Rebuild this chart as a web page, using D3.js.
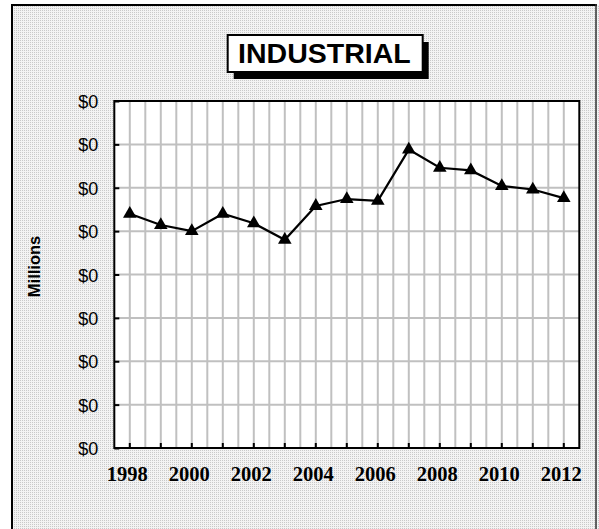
<!DOCTYPE html>
<html>
<head>
<meta charset="utf-8">
<script src="https://cdn.jsdelivr.net/npm/d3@7"></script>
<style>
  html, body { margin: 0; padding: 0; background: #fff; }
  svg { display: block; }
</style>
</head>
<body>
<script>
// ---- data ----
const years = [1998, 1999, 2000, 2001, 2002, 2003, 2004, 2005, 2006, 2007, 2008, 2009, 2010, 2011, 2012];
const values = [0.270, 0.257, 0.250, 0.270, 0.259, 0.240, 0.279, 0.287, 0.285, 0.344, 0.323, 0.320, 0.302, 0.298, 0.288];
const yTicks = [0, 0.05, 0.10, 0.15, 0.20, 0.25, 0.30, 0.35, 0.40];
const xLabelYears = [1998, 2000, 2002, 2004, 2006, 2008, 2010, 2012];
const titleText = "INDUSTRIAL";
const yAxisTitle = "Millions";

const W = 599, H = 529;
const plot = { left: 114.3, right: 579.3, top: 101, bottom: 448 };
const sans = "'Liberation Sans', Arial, sans-serif";
const serif = "'Liberation Serif', 'Times New Roman', serif";

const svg = d3.select("body").append("svg")
  .attr("width", W).attr("height", H);

const defs = svg.append("defs");
const pat = defs.append("pattern").attr("id", "dots")
  .attr("width", 2).attr("height", 2).attr("patternUnits", "userSpaceOnUse");
pat.append("rect").attr("width", 2).attr("height", 2).attr("fill", "#f3f3f3");
pat.append("rect").attr("width", 1).attr("height", 1).attr("fill", "#c9c9c9");

svg.append("rect").attr("width", W).attr("height", H).attr("fill", "#fff");

// outer frame
svg.append("rect").attr("x", 12).attr("y", 5).attr("width", 587).attr("height", 540)
  .attr("fill", "url(#dots)");
svg.append("line").attr("x1", 12).attr("x2", 12).attr("y1", 4).attr("y2", H)
  .attr("stroke", "#000").attr("stroke-width", 2);
svg.append("line").attr("x1", 11).attr("x2", 597).attr("y1", 5).attr("y2", 5)
  .attr("stroke", "#000").attr("stroke-width", 2);
svg.append("line").attr("x1", 596).attr("x2", 596).attr("y1", 4).attr("y2", H)
  .attr("stroke", "#333").attr("stroke-width", 1.5);

// scales
const x = d3.scaleBand().domain(years).range([plot.left, plot.right]).padding(0);
const y = d3.scaleLinear().domain([0, 0.4]).range([plot.bottom, plot.top]);
const cx = d => x(d) + x.bandwidth() / 2;
const fmt = d3.format("$,.0f");

// plot background
svg.append("rect").attr("x", plot.left).attr("y", plot.top)
  .attr("width", plot.right - plot.left).attr("height", plot.bottom - plot.top)
  .attr("fill", "#fff");

// gridlines
const grid = svg.append("g").attr("stroke", "#c0c0c0").attr("stroke-width", 2);
grid.selectAll("line.hc").data(years).join("line")
  .attr("x1", d => cx(d)).attr("x2", d => cx(d))
  .attr("y1", plot.top).attr("y2", plot.bottom);
grid.selectAll("line.hb").data(years.slice(1)).join("line")
  .attr("class", "hb")
  .attr("x1", d => x(d)).attr("x2", d => x(d))
  .attr("y1", plot.top).attr("y2", plot.bottom);
grid.selectAll("line.hy").data(yTicks).join("line")
  .attr("class", "hy")
  .attr("x1", plot.left).attr("x2", plot.right)
  .attr("y1", d => y(d)).attr("y2", d => y(d));

// plot border
svg.append("rect").attr("x", plot.left).attr("y", plot.top)
  .attr("width", plot.right - plot.left).attr("height", plot.bottom - plot.top)
  .attr("fill", "none").attr("stroke", "#000").attr("stroke-width", 2);

// y axis ticks (inside) and labels
const yAxis = d3.axisLeft(y).tickValues(yTicks).tickFormat(fmt).tickSize(-5).tickPadding(0);
const gy = svg.append("g").attr("transform", `translate(${plot.left},0)`).call(yAxis);
gy.select(".domain").remove();
gy.selectAll(".tick line").attr("stroke", "#000").attr("stroke-width", 2);
gy.selectAll(".tick text")
  .attr("x", -16).attr("dy", null).attr("y", 6.5)
  .attr("font-family", sans).attr("font-weight", "normal")
  .attr("font-size", 18).attr("fill", "#000").attr("text-anchor", "end");

// x axis ticks (inside) and labels
const xAxis = d3.axisBottom(x).tickSize(-5).tickFormat(d => xLabelYears.includes(d) ? d : "");
const gx = svg.append("g").attr("transform", `translate(0,${plot.bottom})`).call(xAxis);
gx.select(".domain").remove();
gx.selectAll(".tick line").attr("stroke", "#000").attr("stroke-width", 2);
gx.selectAll(".tick text")
  .attr("x", -2.5).attr("y", 32.7).attr("dy", null)
  .attr("font-family", serif)
  .attr("font-weight", "bold").attr("font-size", 20.5).attr("fill", "#000")
  .attr("text-anchor", "middle");

// line
const line = d3.line().x((d, i) => cx(years[i])).y(d => y(d));
svg.append("path").datum(values).attr("d", line)
  .attr("fill", "none").attr("stroke", "#000").attr("stroke-width", 2.2);

// markers
const tri = d3.symbol().type(d3.symbolTriangle).size(80);
svg.selectAll("path.mk").data(values).join("path")
  .attr("class", "mk")
  .attr("transform", (d, i) => `translate(${cx(years[i])},${y(d)})`)
  .attr("d", tri).attr("fill", "#000");

// y axis title
svg.append("text")
  .attr("transform", "translate(39.5,266.5) rotate(-90)")
  .attr("text-anchor", "middle")
  .attr("font-family", sans)
  .attr("font-weight", "bold").attr("font-size", 16.5)
  .text(yAxisTitle);

// title box
const tb = { x: 227.7, y: 35, w: 195, h: 37 };
svg.append("rect").attr("x", tb.x + 6).attr("y", tb.y + 7)
  .attr("width", tb.w).attr("height", tb.h).attr("fill", "#000");
svg.append("rect").attr("x", tb.x).attr("y", tb.y)
  .attr("width", tb.w).attr("height", tb.h)
  .attr("fill", "#fff").attr("stroke", "#000").attr("stroke-width", 2);
svg.append("text")
  .attr("x", tb.x + tb.w / 2 - 0.8).attr("y", 63)
  .attr("text-anchor", "middle")
  .attr("font-family", sans)
  .attr("font-weight", "bold").attr("font-size", 28.5)
  .text(titleText);
</script>
</body>
</html>
